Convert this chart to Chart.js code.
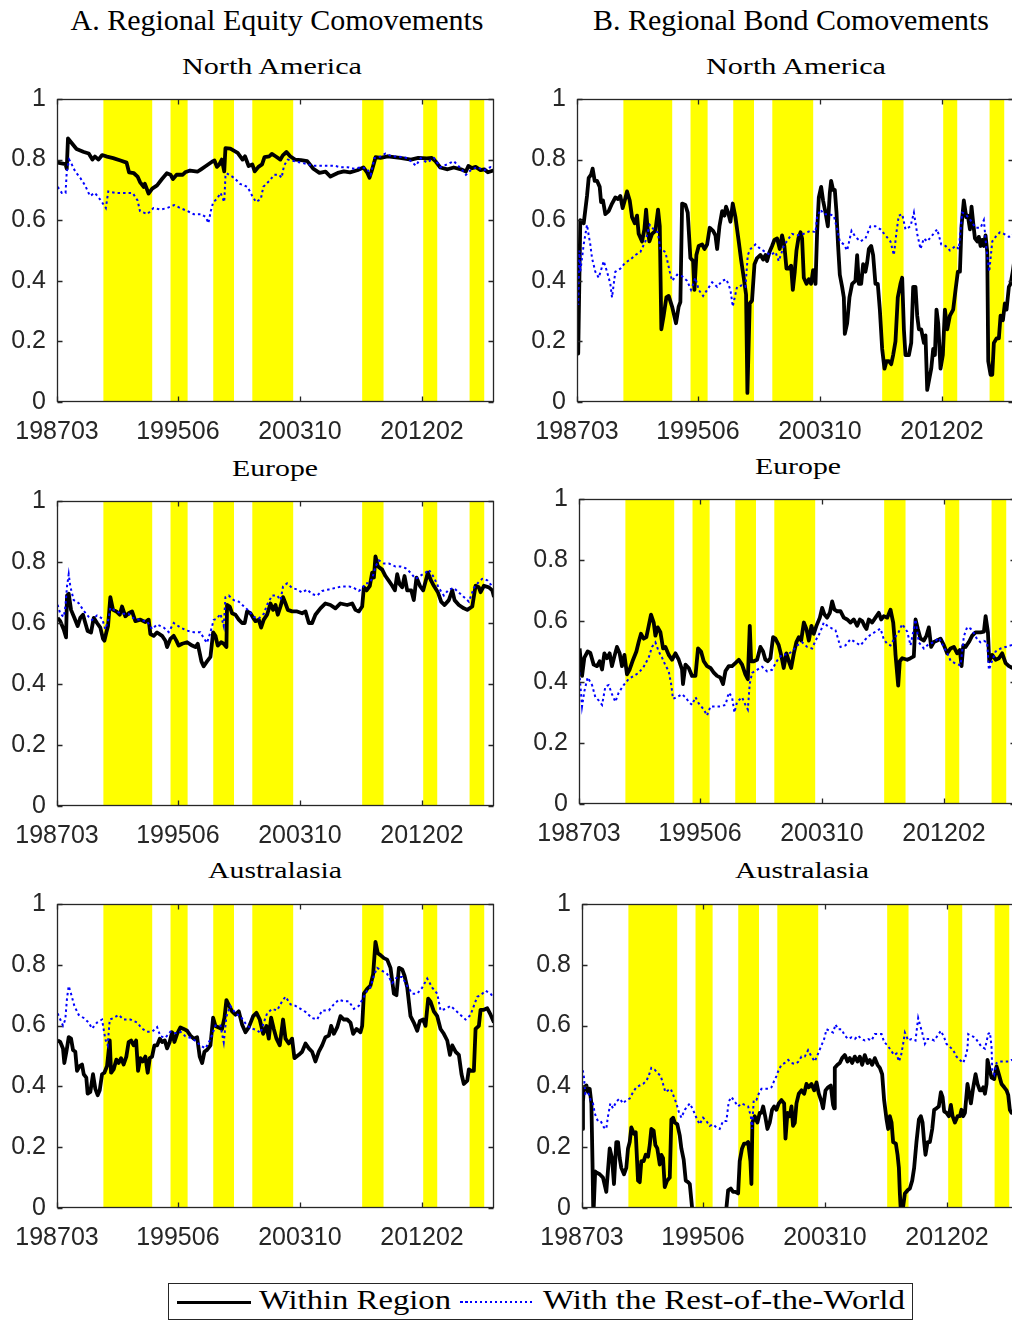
<!DOCTYPE html>
<html>
<head>
<meta charset="utf-8">
<script src="https://cdn.jsdelivr.net/npm/chart.js@4.4.1/dist/chart.umd.min.js"></script>
<style>
  html, body { margin:0; padding:0; background:#fff; }
  body { position:relative; width:1012px; height:1322px; overflow:hidden; }
  canvas.panel { position:absolute; }
  .txt { position:absolute; white-space:nowrap; line-height:1; color:#000;
         font-family:'Liberation Serif','Times New Roman',serif; transform-origin:center; }
  #legend { position:absolute; left:168px; top:1283px; width:745px; height:37px;
            border:1px solid #262626; box-sizing:border-box; background:#fff; }
  .swatch { position:absolute; height:3px; }
</style>
</head>
<body>

<div class="txt" style="left:277px; top:5px; font-size:30px;" data-w="413">A. Regional Equity Comovements</div>
<div class="txt" style="left:791px; top:5px; font-size:30px;" data-w="396">B. Regional Bond Comovements</div>

<div class="txt" style="left:272px; top:54px; font-size:24px;" data-w="180">North America</div>
<div class="txt" style="left:796px; top:54px; font-size:24px;" data-w="180">North America</div>
<div class="txt" style="left:275px; top:456px; font-size:24px;" data-w="86">Europe</div>
<div class="txt" style="left:798px; top:454px; font-size:24px;" data-w="86">Europe</div>
<div class="txt" style="left:275px; top:858px; font-size:24px;" data-w="134">Australasia</div>
<div class="txt" style="left:802px; top:858px; font-size:24px;" data-w="134">Australasia</div>

<canvas class="panel" id="eqNA"></canvas>
<canvas class="panel" id="bdNA"></canvas>
<canvas class="panel" id="eqEU"></canvas>
<canvas class="panel" id="bdEU"></canvas>
<canvas class="panel" id="eqAU"></canvas>
<canvas class="panel" id="bdAU"></canvas>

<div id="legend"></div>
<div class="swatch" style="left:177px; top:1301px; width:74px; background:#000;"></div>
<div class="swatch" style="left:460px; top:1301px; width:72px; height:2px;
     background:repeating-linear-gradient(90deg,#0000ff 0 2.5px,transparent 2.5px 5px);"></div>
<div class="txt" style="left:355px; top:1287px; font-size:27px;" data-w="192">Within Region</div>
<div class="txt" style="left:724px; top:1287px; font-size:27px;" data-w="362">With the Rest-of-the-World</div>

<script>
// Observation index 1 = 1987:03 (monthly)
const tickObs = [1, 100, 200, 300];
const tickLabels = ['198703', '199506', '200310', '201202'];
const firstObs = 1;
const lastObs = 359;

// Shaded episodes [start obs, end obs]
const shadedPeriods = [[39, 79], [94, 108], [129, 146], [161, 194.5], [251, 268.5], [301, 312.5], [339, 351]];

// ---- A. Equity, North America
const equityNA_within = [[1.5,0.79],[8,0.785],[9,0.77],[10,0.87],[13,0.855],[17,0.835],[23,0.825],[27,0.82],[30,0.80],[32,0.81],[35,0.80],[38,0.815],[42,0.81],[47,0.805],[53,0.797],[58,0.79],[60,0.758],[64,0.755],[67,0.744],[69,0.726],[72,0.71],[73,0.72],[76,0.688],[79,0.704],[83,0.715],[87,0.736],[91,0.755],[94,0.75],[96,0.736],[99,0.75],[104,0.75],[106,0.758],[110,0.764],[116,0.76],[119,0.768],[123,0.779],[128,0.793],[130,0.797],[132,0.776],[134,0.784],[136,0.80],[138,0.761],[139,0.838],[143,0.836],[149,0.822],[153,0.80],[155,0.811],[158,0.779],[161,0.784],[163,0.761],[166,0.776],[169,0.784],[171,0.808],[175,0.811],[177,0.819],[180,0.811],[184,0.80],[186,0.814],[189,0.825],[192,0.811],[196,0.80],[201,0.798],[206,0.795],[211,0.77],[216,0.756],[221,0.76],[225,0.744],[231,0.756],[236,0.761],[241,0.758],[247,0.765],[252,0.774],[255,0.758],[257,0.74],[259,0.765],[262,0.808],[266,0.806],[272,0.811],[277,0.808],[282,0.806],[291,0.80],[297,0.806],[304,0.804],[308,0.806],[311,0.795],[315,0.774],[321,0.768],[326,0.774],[332,0.768],[336,0.761],[338,0.779],[341,0.772],[344,0.776],[348,0.765],[351,0.768],[354,0.758],[359,0.765]];
const equityNA_world = [[1.5,0.71],[5,0.69],[8,0.69],[9,0.76],[11,0.80],[13,0.785],[16,0.76],[20,0.74],[24,0.715],[28,0.68],[32,0.69],[37,0.665],[41,0.64],[43,0.695],[49,0.69],[56,0.69],[63,0.69],[67,0.665],[69,0.63],[75,0.62],[80,0.64],[86,0.635],[91,0.64],[97,0.65],[102,0.64],[108,0.63],[113,0.62],[119,0.62],[123,0.61],[125,0.59],[127,0.63],[129,0.66],[132,0.67],[135,0.69],[138,0.66],[139,0.745],[140,0.755],[146,0.74],[151,0.72],[157,0.71],[161,0.68],[164,0.66],[168,0.67],[170,0.71],[175,0.73],[179,0.75],[183,0.75],[185,0.74],[187,0.78],[190,0.80],[195,0.795],[201,0.79],[206,0.785],[211,0.78],[217,0.78],[222,0.78],[228,0.78],[233,0.775],[239,0.775],[244,0.77],[250,0.775],[255,0.77],[258,0.75],[261,0.805],[266,0.81],[270,0.82],[276,0.81],[281,0.81],[288,0.805],[295,0.78],[299,0.805],[304,0.79],[310,0.805],[315,0.775],[321,0.785],[326,0.795],[332,0.77],[336,0.75],[340,0.765],[345,0.775],[351,0.765],[356,0.775],[359,0.77]];

// ---- B. Bond, North America
const bondNA_within = [[1,0.43],[2,0.16],[3.7,0.60],[6.5,0.59],[9.2,0.68],[10.6,0.74],[12.5,0.75],[13.8,0.77],[15.5,0.73],[17.4,0.73],[19.6,0.71],[20.7,0.66],[22.3,0.665],[24.2,0.62],[27,0.63],[29.7,0.655],[32.4,0.675],[34.6,0.67],[36.5,0.68],[38.4,0.64],[40.1,0.665],[42,0.695],[44.2,0.665],[46.1,0.61],[48.3,0.59],[50.2,0.615],[51.5,0.555],[54.3,0.53],[56.2,0.57],[57.6,0.635],[58.9,0.57],[60.3,0.53],[62.5,0.555],[65.2,0.565],[67.4,0.635],[68.8,0.58],[70.1,0.24],[72,0.285],[74.2,0.345],[76.1,0.35],[78.9,0.315],[82.1,0.26],[84.3,0.315],[85.7,0.33],[87.1,0.655],[89.8,0.65],[91.7,0.625],[93.9,0.475],[96.1,0.465],[97.2,0.37],[98.8,0.485],[100.7,0.515],[103.5,0.52],[105.4,0.505],[107.6,0.52],[109.7,0.575],[112.5,0.565],[114.4,0.55],[115.8,0.505],[117.7,0.58],[119.9,0.63],[121.8,0.615],[123.1,0.645],[124.8,0.625],[126.7,0.595],[128.6,0.655],[130.8,0.61],[133.5,0.53],[135.4,0.47],[137.6,0.41],[139.5,0.355],[140.6,0.03],[142.5,0.325],[144.4,0.335],[146.4,0.455],[148.5,0.475],[151.3,0.485],[153.5,0.47],[155.4,0.485],[156.7,0.465],[158.7,0.495],[160.8,0.515],[162.7,0.535],[164.9,0.54],[167.1,0.505],[169,0.55],[170.9,0.515],[172.6,0.44],[174.5,0.44],[176.4,0.45],[177.8,0.37],[179.4,0.43],[180.8,0.50],[182.4,0.54],[184.1,0.56],[185.4,0.54],[186.8,0.41],[189,0.39],[190.9,0.405],[192.8,0.39],[194.4,0.435],[196.4,0.39],[197.7,0.56],[199.1,0.675],[201,0.71],[202.6,0.665],[204.6,0.625],[206.5,0.58],[208.1,0.69],[209.2,0.73],[210.8,0.70],[212.2,0.70],[213.6,0.625],[214.9,0.515],[216.3,0.42],[218.2,0.38],[219.6,0.345],[220.4,0.225],[222.3,0.26],[224.2,0.345],[226.4,0.39],[229.1,0.40],[230.5,0.485],[231.9,0.39],[233.8,0.39],[235.4,0.455],[237.3,0.43],[238.7,0.46],[240.1,0.505],[242,0.515],[243.6,0.485],[245.5,0.39],[247.4,0.39],[249.1,0.305],[251,0.175],[252.9,0.11],[254.6,0.135],[256.5,0.135],[258.4,0.125],[260,0.155],[261.9,0.20],[263.8,0.345],[266,0.39],[267.4,0.41],[268.8,0.24],[270.1,0.155],[272.9,0.155],[274.8,0.195],[276.4,0.38],[278.3,0.38],[279.7,0.285],[281.1,0.24],[283,0.24],[285.2,0.195],[286.5,0.22],[287.9,0.04],[289.3,0.07],[291.2,0.11],[292.8,0.175],[294.2,0.155],[295.5,0.305],[296.9,0.26],[298.8,0.11],[300.7,0.155],[302.4,0.305],[304.3,0.24],[306.5,0.285],[309.2,0.305],[311.1,0.37],[313,0.43],[314.7,0.43],[316,0.58],[317.9,0.665],[319.9,0.61],[321.2,0.615],[322.9,0.57],[324.2,0.645],[325.6,0.59],[327,0.54],[328.9,0.53],[330.2,0.545],[331.6,0.515],[333,0.535],[334.3,0.515],[335.7,0.55],[337.1,0.495],[337.9,0.135],[339.8,0.09],[341.2,0.09],[342.5,0.195],[344.7,0.21],[346.6,0.21],[348,0.285],[349.9,0.27],[351.5,0.325],[352.9,0.305],[354.8,0.38],[356.2,0.39],[358,0.43],[359,0.46]];
const bondNA_world = [[1,0.45],[2,0.32],[3,0.50],[3.7,0.43],[6.5,0.52],[9.2,0.585],[10.6,0.55],[11.9,0.52],[13.3,0.475],[16,0.43],[18.8,0.41],[22.9,0.465],[25.6,0.43],[28.3,0.39],[29.7,0.345],[32.4,0.43],[36.5,0.44],[40.6,0.46],[44.7,0.47],[48.8,0.485],[52.9,0.495],[57,0.53],[60.6,0.585],[63.8,0.57],[67.1,0.56],[69.3,0.505],[73.4,0.495],[77,0.43],[78.9,0.40],[83,0.42],[87.1,0.415],[91.2,0.40],[94.4,0.37],[98,0.41],[100.7,0.37],[104.3,0.35],[107.6,0.37],[111.7,0.395],[115.8,0.38],[119.9,0.40],[123.4,0.405],[126.7,0.37],[128.6,0.315],[132.1,0.38],[136.2,0.385],[139,0.38],[140.9,0.485],[143.1,0.505],[147.2,0.52],[151.3,0.505],[155.4,0.495],[159.5,0.485],[163.6,0.495],[166.3,0.465],[170.4,0.515],[174.5,0.54],[177.2,0.555],[181.3,0.55],[186.8,0.555],[192.3,0.565],[196.4,0.56],[197.7,0.61],[200.5,0.635],[203.2,0.62],[207.3,0.62],[211.4,0.615],[214.1,0.57],[216.3,0.53],[219.6,0.52],[222.3,0.50],[225.9,0.565],[229.1,0.545],[233.2,0.53],[237.3,0.54],[241.4,0.58],[245.5,0.58],[249.6,0.57],[253.7,0.55],[257.8,0.53],[260.6,0.485],[262.7,0.56],[264.6,0.615],[267.4,0.62],[270.1,0.57],[274.2,0.58],[277,0.625],[279.7,0.555],[282.4,0.505],[285.2,0.54],[287.9,0.53],[292,0.55],[296.1,0.57],[299.4,0.52],[302.9,0.515],[306.5,0.50],[311.1,0.515],[313.8,0.505],[316.6,0.625],[319.3,0.62],[323.4,0.60],[327.5,0.575],[331.6,0.575],[334.3,0.60],[336.2,0.515],[337.6,0.465],[338.7,0.43],[341.2,0.53],[343.9,0.545],[347.4,0.56],[350.7,0.555],[354.8,0.545],[357.6,0.55],[359,0.56]];

// ---- A. Equity, Europe
const equityEU_within = [[1.5,0.617],[3.7,0.606],[6.5,0.579],[8.4,0.553],[9.2,0.69],[10.6,0.696],[12.5,0.643],[15.2,0.617],[17.9,0.59],[20.1,0.617],[22.3,0.627],[24.2,0.60],[26.1,0.574],[28.9,0.569],[31.1,0.617],[33.8,0.60],[36.5,0.585],[38.7,0.548],[39.8,0.542],[41.4,0.569],[42.8,0.59],[44.7,0.685],[46.9,0.643],[49.6,0.638],[52.4,0.627],[54.3,0.654],[57,0.622],[59.7,0.632],[62.5,0.638],[65.2,0.606],[69.3,0.611],[73.4,0.603],[76.1,0.611],[77.5,0.564],[80.2,0.558],[83,0.569],[87.1,0.558],[89.8,0.542],[91.2,0.521],[93.9,0.548],[96.6,0.558],[98.8,0.542],[100.7,0.526],[103.5,0.532],[107.6,0.537],[111.7,0.526],[114.4,0.521],[116.3,0.532],[117.7,0.505],[119.3,0.474],[121.2,0.458],[123.9,0.474],[126.7,0.489],[128.9,0.569],[130.8,0.558],[132.7,0.526],[135.4,0.537],[137.6,0.532],[139.8,0.521],[140.3,0.659],[142.5,0.654],[144.4,0.632],[147.2,0.627],[149.9,0.611],[152.6,0.60],[154.8,0.60],[156.7,0.638],[159.5,0.632],[161.7,0.617],[163.6,0.606],[166.3,0.611],[168.2,0.585],[170.4,0.611],[173.1,0.627],[175.9,0.664],[178,0.643],[180,0.659],[181.9,0.627],[184.1,0.654],[186.2,0.685],[188.2,0.664],[190.1,0.643],[193.6,0.638],[197.7,0.638],[201.8,0.632],[204.6,0.638],[207.3,0.60],[210,0.60],[212.7,0.627],[216.8,0.648],[220.9,0.664],[225,0.659],[229.1,0.648],[233.2,0.664],[238.7,0.659],[242.8,0.664],[245.5,0.643],[248.3,0.638],[251,0.654],[252.4,0.717],[254.6,0.707],[257.3,0.722],[259.2,0.765],[260.6,0.749],[261.9,0.818],[263.8,0.786],[267.4,0.775],[270.1,0.754],[272.9,0.738],[275.6,0.722],[277.8,0.707],[279.7,0.76],[281.6,0.728],[283.8,0.717],[285.7,0.754],[287.9,0.707],[291.2,0.707],[293.3,0.675],[295.5,0.749],[298.3,0.722],[301,0.707],[304.8,0.765],[307.6,0.738],[309.7,0.722],[313,0.701],[315.8,0.669],[318.5,0.659],[322,0.675],[324.8,0.707],[326.7,0.675],[330.2,0.659],[334.3,0.648],[337.1,0.643],[341.2,0.654],[343.9,0.722],[346.6,0.717],[348,0.701],[350.7,0.722],[354.8,0.717],[357.6,0.707],[359,0.685]];
const equityEU_world = [[1.5,0.66],[3.7,0.63],[6.5,0.62],[7.8,0.65],[9.2,0.72],[10.6,0.76],[11.9,0.72],[14.7,0.675],[18.8,0.665],[22.9,0.64],[27,0.62],[29.7,0.61],[33.8,0.625],[37.9,0.615],[40.6,0.58],[43.3,0.615],[44.7,0.65],[48.8,0.64],[54.3,0.63],[59.7,0.63],[63.8,0.615],[69.3,0.61],[74.8,0.605],[78.9,0.58],[83,0.595],[88.4,0.585],[92.5,0.57],[96.6,0.60],[102.1,0.585],[107.6,0.575],[113,0.57],[118.5,0.57],[121.2,0.55],[123.9,0.535],[126.7,0.57],[129.4,0.61],[132.1,0.615],[134.9,0.63],[137.6,0.59],[139,0.685],[141.7,0.69],[145.8,0.675],[149.9,0.67],[154,0.655],[158.1,0.64],[162.2,0.62],[166.3,0.615],[170.4,0.63],[173.1,0.66],[177.2,0.69],[181.3,0.69],[184.1,0.675],[186.2,0.72],[189.5,0.73],[193.6,0.715],[197.7,0.71],[201.8,0.70],[205.9,0.71],[210,0.695],[214.1,0.69],[218.2,0.705],[223.7,0.71],[229.1,0.715],[234.6,0.72],[240.1,0.72],[244.2,0.715],[248.3,0.705],[251,0.715],[253.7,0.73],[256.5,0.73],[259.2,0.745],[261.9,0.785],[264.7,0.805],[268.8,0.795],[272.9,0.795],[278.3,0.785],[282.4,0.785],[286.5,0.78],[290.6,0.765],[294.7,0.745],[298.8,0.755],[302.9,0.765],[305.6,0.775],[309.7,0.75],[313.8,0.715],[317.9,0.69],[322,0.71],[326.1,0.715],[330.2,0.70],[334.3,0.685],[338.4,0.67],[342.5,0.715],[346.6,0.735],[349.4,0.745],[353.5,0.74],[357.6,0.72],[359,0.72]];

// ---- B. Bond, Europe
const bondEU_within = [[1.5,0.51],[3.5,0.42],[5.4,0.48],[8.1,0.50],[10.3,0.495],[13,0.457],[15.8,0.452],[17.9,0.468],[19.9,0.441],[21.8,0.494],[24,0.478],[26.1,0.494],[28,0.452],[30,0.484],[32.1,0.515],[34.3,0.494],[36.2,0.452],[38.2,0.489],[40.3,0.425],[42.5,0.441],[45.3,0.473],[48,0.50],[49.9,0.531],[51.8,0.558],[54,0.542],[56.2,0.547],[58.1,0.584],[60,0.621],[62.2,0.595],[63.6,0.552],[65.5,0.579],[67.7,0.563],[69.9,0.51],[71.8,0.515],[74.5,0.489],[77.2,0.473],[80,0.494],[82.7,0.473],[85.4,0.441],[86.2,0.393],[88.2,0.457],[90.9,0.446],[93.6,0.42],[96.4,0.42],[98.5,0.51],[101,0.50],[103.2,0.468],[105.9,0.452],[108.7,0.446],[111.4,0.431],[114.1,0.42],[116.8,0.415],[119,0.393],[121,0.436],[123.7,0.452],[126.4,0.452],[129.1,0.462],[131.9,0.473],[134.6,0.457],[137.3,0.425],[139.3,0.409],[140.9,0.584],[142,0.468],[144.2,0.468],[146.9,0.473],[149.6,0.515],[151.8,0.50],[153.7,0.473],[155.6,0.468],[157.8,0.478],[160,0.547],[161.9,0.542],[164.6,0.521],[166.6,0.489],[168.7,0.446],[170.9,0.494],[172.9,0.468],[174.8,0.446],[177,0.494],[179.1,0.531],[181.1,0.547],[183,0.536],[185.2,0.595],[187.3,0.574],[189.3,0.536],[191.4,0.584],[193.3,0.558],[195.5,0.584],[198.3,0.611],[200.2,0.643],[202.1,0.621],[204.3,0.611],[206.5,0.627],[208.4,0.664],[210.3,0.637],[212.5,0.632],[215.2,0.632],[217.9,0.611],[220.7,0.605],[223.4,0.595],[226.1,0.605],[228.9,0.584],[231.1,0.605],[233,0.60],[234.9,0.584],[236.5,0.574],[238.4,0.605],[241.2,0.595],[243.9,0.611],[246.6,0.627],[248.5,0.605],[250.7,0.616],[253.5,0.611],[256.2,0.637],[258.4,0.595],[259.5,0.542],[260.3,0.489],[261.7,0.425],[262.5,0.388],[263.8,0.468],[265.8,0.478],[269.9,0.473],[272.6,0.478],[275.3,0.484],[276.7,0.605],[278.6,0.574],[280.8,0.542],[283.5,0.536],[285.7,0.552],[287.6,0.579],[289.5,0.515],[291.7,0.531],[294.4,0.536],[297.2,0.542],[299.9,0.521],[302.6,0.494],[305.4,0.51],[308.1,0.515],[310.8,0.494],[313,0.505],[314.4,0.452],[315.8,0.52],[317.7,0.515],[320.4,0.531],[323.1,0.552],[325.9,0.563],[330,0.563],[332.7,0.565],[334.1,0.616],[336,0.563],[337.1,0.468],[339.5,0.489],[342.3,0.473],[345,0.478],[347.7,0.494],[350.5,0.462],[353.2,0.452],[356.2,0.446],[359,0.45]];
const bondEU_world = [[1,0.45],[2.1,0.39],[3.5,0.32],[5.4,0.37],[8.1,0.415],[11.7,0.39],[14.4,0.35],[17.1,0.34],[19.9,0.325],[22.6,0.385],[25.3,0.39],[28,0.36],[30.8,0.335],[33.5,0.365],[37.6,0.39],[41.7,0.41],[45.8,0.42],[49.9,0.43],[54,0.45],[58.1,0.48],[60.8,0.515],[63.6,0.53],[66.3,0.50],[69,0.48],[71.8,0.455],[74.5,0.435],[76.4,0.395],[78,0.345],[81.3,0.35],[85.4,0.36],[88.2,0.35],[90.9,0.335],[93.6,0.325],[96.4,0.35],[99.1,0.33],[103.2,0.31],[105.9,0.29],[108.7,0.32],[112.7,0.32],[116.8,0.32],[121,0.325],[123.7,0.365],[126.4,0.35],[128.3,0.30],[130.5,0.335],[134.6,0.35],[137.3,0.325],[139.3,0.31],[140.9,0.395],[142.8,0.43],[146.9,0.44],[151,0.45],[155.1,0.435],[159.2,0.44],[163.3,0.47],[167.4,0.49],[171.5,0.49],[175.6,0.50],[179.7,0.52],[183.8,0.53],[187.9,0.515],[192,0.51],[194.7,0.535],[198.8,0.565],[201.5,0.595],[204.3,0.585],[208.4,0.575],[211.1,0.57],[215.2,0.515],[219.3,0.52],[223.4,0.54],[227.5,0.53],[231.6,0.52],[235.7,0.54],[239.8,0.555],[243.9,0.565],[248,0.575],[250.7,0.54],[253.5,0.525],[256.2,0.52],[258.9,0.54],[263,0.565],[265.8,0.59],[269.9,0.565],[272.6,0.52],[275.3,0.575],[276.7,0.605],[279.4,0.53],[283.5,0.51],[287.6,0.525],[291.7,0.53],[295.8,0.545],[298.5,0.525],[302.6,0.495],[305.4,0.47],[309.5,0.46],[313.6,0.455],[316.3,0.55],[319,0.58],[321.8,0.575],[324.5,0.56],[327.2,0.54],[329.9,0.53],[332.7,0.535],[335.4,0.53],[336.8,0.44],[339.5,0.47],[342.3,0.50],[346.4,0.51],[350.5,0.515],[354.6,0.52],[359,0.525]];

// ---- A. Equity, Australasia
const equityAU_within = [[1.5,0.551],[3.7,0.546],[5.9,0.525],[7,0.477],[8.7,0.514],[10.6,0.562],[12.5,0.557],[14.1,0.52],[16,0.514],[17.4,0.451],[19.6,0.467],[21.5,0.472],[22.9,0.44],[25,0.429],[26.1,0.376],[28.3,0.382],[30.5,0.44],[32.4,0.392],[34.3,0.371],[36,0.387],[37.9,0.44],[39.8,0.445],[42,0.467],[44.2,0.551],[45.3,0.445],[47.4,0.456],[49.6,0.488],[51.5,0.477],[53.5,0.493],[55.6,0.472],[57.8,0.498],[59.7,0.546],[61.7,0.551],[63.8,0.535],[65.8,0.551],[67.4,0.451],[69.3,0.493],[71.2,0.482],[73.4,0.498],[75.3,0.445],[77,0.493],[78.9,0.498],[80.8,0.535],[83,0.535],[85.2,0.557],[87.1,0.546],[89.3,0.551],[91.2,0.525],[93.3,0.546],[95.3,0.578],[97.2,0.546],[99.4,0.573],[102.1,0.594],[104.8,0.589],[107.6,0.583],[110.3,0.567],[113,0.557],[115.8,0.562],[117.9,0.498],[119.9,0.477],[121.8,0.514],[123.9,0.52],[126.7,0.535],[128.9,0.626],[130.8,0.599],[133.5,0.594],[136.2,0.589],[138.2,0.626],[139.8,0.684],[141.7,0.668],[144.4,0.647],[147.2,0.636],[149.9,0.647],[152.6,0.604],[155.4,0.578],[158.1,0.594],[161.7,0.631],[164.4,0.642],[167.1,0.62],[169.9,0.573],[172.6,0.599],[174.5,0.557],[176.4,0.626],[178.6,0.589],[180.8,0.557],[183.5,0.535],[186.2,0.62],[188.2,0.557],[190.9,0.541],[193.6,0.557],[195.5,0.493],[199.1,0.504],[201.8,0.514],[204.6,0.541],[207.3,0.525],[210,0.514],[212.7,0.482],[215.5,0.514],[218.2,0.535],[220.9,0.562],[223.7,0.567],[225.6,0.599],[227.8,0.573],[230.5,0.594],[233.2,0.631],[236,0.62],[238.7,0.62],[241.4,0.61],[243.6,0.573],[246.4,0.589],[249.6,0.578],[251,0.599],[252.4,0.705],[255.1,0.721],[257.8,0.732],[260,0.769],[261.9,0.875],[263.8,0.838],[266,0.832],[268.8,0.822],[271.5,0.817],[274.2,0.79],[277,0.705],[279.1,0.70],[281.1,0.79],[283.8,0.785],[285.7,0.764],[287.9,0.726],[290.6,0.631],[293.3,0.61],[296.1,0.583],[298.3,0.615],[301,0.62],[302.9,0.599],[305.1,0.689],[307,0.679],[309.7,0.647],[312.5,0.631],[315.2,0.589],[317.9,0.573],[320.7,0.551],[322.9,0.504],[324.8,0.535],[327.5,0.514],[330.2,0.504],[332.4,0.44],[334.3,0.408],[337.1,0.419],[338.4,0.456],[340.3,0.451],[342.5,0.451],[343.9,0.589],[346.6,0.599],[348,0.652],[350.7,0.652],[353.5,0.657],[356.2,0.636],[359,0.61]];
const equityAU_world = [[1.5,0.64],[3.7,0.62],[5.9,0.60],[7.8,0.62],[9.2,0.69],[10.6,0.73],[12.5,0.705],[15.2,0.665],[18.8,0.635],[22.9,0.625],[27,0.61],[29.7,0.59],[33.8,0.61],[37.9,0.62],[40.6,0.555],[42.5,0.535],[44.2,0.62],[47.4,0.625],[51.5,0.635],[55.6,0.62],[61.1,0.62],[66.6,0.61],[70.7,0.59],[74.8,0.58],[78.9,0.58],[83,0.595],[85.7,0.565],[89.8,0.56],[93.9,0.58],[98,0.575],[102.1,0.58],[106.2,0.565],[110.3,0.56],[114.4,0.55],[118.5,0.535],[122.6,0.525],[126.7,0.555],[130.8,0.60],[134.9,0.60],[137.6,0.545],[139.8,0.63],[143,0.665],[147.2,0.64],[151.3,0.63],[156.7,0.60],[160.8,0.59],[164.9,0.585],[167.7,0.575],[170.4,0.61],[173.1,0.64],[177.2,0.655],[181.3,0.65],[185.4,0.68],[188.2,0.695],[192.3,0.67],[196.4,0.665],[200.5,0.655],[204.6,0.645],[210,0.625],[214.1,0.62],[218.2,0.65],[223.7,0.65],[227.8,0.67],[231.9,0.685],[236,0.68],[240.1,0.68],[244.2,0.655],[248.3,0.665],[252.4,0.695],[255.1,0.715],[257.8,0.725],[260.6,0.765],[263.3,0.79],[267.4,0.78],[271.5,0.77],[275.6,0.74],[279.7,0.76],[283.8,0.76],[287.9,0.73],[292,0.705],[296.1,0.705],[300.2,0.725],[304.3,0.755],[308.4,0.725],[312.5,0.705],[315.2,0.65],[319.3,0.655],[323.4,0.665],[327.5,0.65],[331.6,0.635],[335.7,0.62],[339.8,0.635],[342.5,0.665],[345.3,0.695],[348,0.70],[352.1,0.715],[356.2,0.705],[359,0.69]];

// ---- B. Bond, Australasia (values below zero run off the axis)
const bondAU_within = [[1,0.26],[1.8,0.35],[2.6,0.397],[4.6,0.403],[5.9,0.381],[7.3,0.392],[8.7,0.344],[9.6,0.15],[10.3,-0.03],[11.8,0.12],[12.7,0.117],[15.5,0.111],[18.2,0.10],[20.9,0.053],[23.7,0.196],[25.6,0.164],[27.2,0.079],[29.1,0.217],[30.5,0.217],[31.9,0.164],[33.2,0.132],[35.4,0.111],[37.3,0.132],[38.7,0.196],[40.1,0.217],[41.4,0.265],[43.6,0.244],[45,0.249],[46.9,0.09],[48.3,0.085],[49.6,0.154],[51.5,0.154],[53.2,0.175],[55.1,0.169],[56.5,0.207],[57.8,0.26],[59.7,0.254],[61.1,0.207],[62.7,0.196],[64.7,0.143],[66,0.175],[67.4,0.164],[68.8,0.069],[70.7,0.09],[72.9,0.10],[74.2,0.291],[75.6,0.297],[77,0.281],[79.1,0.275],[81.1,0.238],[82.4,0.196],[84.3,0.159],[86,0.09],[87.9,0.085],[89.3,0.079],[91.2,0],[92,-0.1],[118.5,-0.1],[119.3,0],[120.7,0.058],[122.9,0.064],[124.8,0.053],[126.7,0.053],[128.9,0.048],[130.2,0.154],[132.1,0.196],[133.8,0.212],[135.7,0.212],[137.1,0.217],[139,0.154],[139.8,0.079],[140.6,0.281],[142.5,0.302],[144.7,0.281],[146.6,0.313],[148,0.313],[149.4,0.334],[151.3,0.297],[152.9,0.26],[154.8,0.281],[156.7,0.323],[158.4,0.334],[160.3,0.323],[162.2,0.344],[164.4,0.355],[166.6,0.344],[167.7,0.228],[169.3,0.313],[171.2,0.302],[172.6,0.334],[173.9,0.27],[175.3,0.28],[176.7,0.344],[178.6,0.376],[180.8,0.387],[183,0.376],[184.9,0.408],[186.8,0.397],[189,0.408],[191.2,0.387],[193.1,0.413],[195,0.376],[197.2,0.35],[198.5,0.328],[200.5,0.387],[202.6,0.397],[204.8,0.403],[206.7,0.339],[207.6,0.328],[208.1,0.461],[210.3,0.471],[212.2,0.477],[214.1,0.493],[216.3,0.503],[218.5,0.482],[220.4,0.493],[222.3,0.477],[224.5,0.498],[226.7,0.482],[228.6,0.498],[230.5,0.471],[232.7,0.503],[234.9,0.477],[236.8,0.487],[238.7,0.471],[240.9,0.493],[243.1,0.471],[245,0.461],[246.9,0.44],[248.5,0.355],[250.5,0.291],[251.8,0.26],[253.2,0.302],[254.6,0.281],[255.9,0.217],[258.1,0.212],[259.5,0.175],[260.6,0.132],[261.4,0.048],[262.2,-0.01],[264.1,0.005],[265.5,0.048],[267.7,0.058],[269.6,0.064],[271.5,0.09],[273.1,0.132],[275,0.217],[277,0.291],[278.6,0.302],[280,0.281],[281.3,0.217],[282.4,0.175],[284.1,0.217],[286,0.217],[287.9,0.26],[289.5,0.323],[291.4,0.328],[293.3,0.334],[295,0.381],[296.4,0.365],[297.7,0.318],[299.6,0.313],[301.5,0.302],[303.2,0.339],[304.6,0.302],[306.5,0.281],[308.7,0.302],[310.6,0.302],[311.9,0.323],[313.3,0.302],[314.7,0.313],[316.8,0.408],[318.2,0.376],[319.6,0.344],[321.5,0.397],[323.4,0.44],[325,0.408],[326.9,0.387],[328.3,0.387],[329.7,0.397],[331.1,0.376],[332.4,0.408],[333.2,0.487],[334.6,0.461],[336.5,0.429],[338.7,0.424],[340.6,0.466],[342.5,0.44],[344.7,0.408],[346.9,0.397],[348.8,0.387],[350.2,0.371],[351.5,0.323],[352.9,0.313],[359,0.32]];
const bondAU_world = [[1,0.45],[1.8,0.45],[2.6,0.43],[3.7,0.376],[5.9,0.381],[8.1,0.355],[10,0.344],[11.4,0.313],[12.7,0.297],[14.1,0.286],[16.3,0.286],[19,0.265],[20.9,0.26],[22.3,0.302],[24.2,0.344],[26.4,0.328],[29.1,0.35],[31.9,0.36],[34.6,0.344],[37.3,0.355],[40.1,0.36],[42.8,0.381],[45.5,0.397],[48.3,0.403],[51,0.408],[53.7,0.418],[55.6,0.434],[57.8,0.461],[60.6,0.455],[62.7,0.445],[65.5,0.434],[67.4,0.408],[69.3,0.381],[71.5,0.387],[73.7,0.392],[76.4,0.365],[78.3,0.344],[80.2,0.318],[82.4,0.297],[85.2,0.323],[89.3,0.344],[92,0.323],[94.7,0.297],[97.4,0.275],[100.2,0.297],[102.9,0.286],[105.6,0.27],[108.4,0.275],[111.1,0.265],[113.8,0.26],[116.6,0.286],[119.3,0.286],[121.2,0.35],[123.4,0.365],[126.1,0.35],[128.9,0.334],[131.6,0.344],[134.3,0.339],[137.1,0.334],[139.3,0.302],[140.3,0.26],[141.7,0.355],[143.9,0.355],[145.8,0.376],[148,0.392],[150.7,0.392],[153.5,0.392],[156.2,0.397],[158.4,0.418],[160.3,0.434],[162.2,0.455],[164.4,0.471],[167.1,0.477],[169.9,0.487],[172.6,0.477],[175.3,0.474],[178,0.48],[180.8,0.498],[183.5,0.498],[186.2,0.519],[189,0.498],[191.7,0.482],[194.4,0.508],[197.2,0.535],[199.4,0.556],[201.3,0.588],[204,0.583],[206.7,0.577],[208.7,0.604],[210.8,0.588],[213.6,0.588],[216.3,0.567],[219,0.556],[221.8,0.561],[224.5,0.556],[227.2,0.567],[230,0.556],[232.7,0.551],[235.4,0.556],[238.2,0.551],[240.9,0.572],[243.6,0.572],[246.4,0.572],[248.5,0.546],[251.3,0.535],[254,0.519],[256.7,0.503],[258.7,0.508],[260.6,0.482],[262.2,0.498],[264.1,0.54],[265.5,0.577],[268.2,0.551],[270.9,0.556],[274.2,0.551],[276.4,0.625],[277.8,0.604],[279.7,0.577],[281.9,0.54],[284.1,0.556],[286.8,0.556],[289.5,0.551],[292.3,0.567],[295,0.583],[297.7,0.561],[299.6,0.54],[302.4,0.53],[305.1,0.519],[307.8,0.498],[310.6,0.487],[313.3,0.477],[315.2,0.498],[316.8,0.524],[317.4,0.572],[319.6,0.567],[322.9,0.561],[325.6,0.546],[328.3,0.53],[331.1,0.524],[333.8,0.572],[335.2,0.577],[336.5,0.53],[337.1,0.455],[338.7,0.44],[340.6,0.477],[343.3,0.482],[346.1,0.482],[350.2,0.482],[352.9,0.487],[359,0.49]];

// ---------------------------------------------------------------------------
const AXIS_INK = '#262626';
const TICK_FONT = { family: "'Liberation Sans', Arial, Helvetica, sans-serif", size: 25 };
const PAD_L = 60, PAD_T = 16, PAD_R = 16, PAD_B = 44, PLOT_W = 437;

// yellow episode shading behind the series
const shadingPlugin = {
  id: 'episodeShading',
  beforeDatasetsDraw(chart) {
    const { ctx, chartArea: a, scales: { x } } = chart;
    ctx.save();
    ctx.fillStyle = '#ffff00';
    for (const [s, e] of shadedPeriods) {
      const x0 = x.getPixelForValue(s), x1 = x.getPixelForValue(e);
      ctx.fillRect(x0, a.top, x1 - x0, a.bottom - a.top);
    }
    ctx.restore();
  }
};

// boxed axes with inward tick marks on all four sides
const framePlugin = {
  id: 'boxFrame',
  afterDatasetsDraw(chart) {
    const { ctx, chartArea: a, scales: { x, y } } = chart;
    const L = Math.round(a.left) + 0.5, R = Math.round(a.right) - 0.5;
    const T = Math.round(a.top) + 0.5, B = Math.round(a.bottom) - 0.5;
    const len = 5;
    ctx.save();
    ctx.strokeStyle = AXIS_INK;
    ctx.lineWidth = 1.3;
    ctx.strokeRect(L, T, R - L, B - T);
    ctx.beginPath();
    y.ticks.forEach(t => {
      const p = Math.round(y.getPixelForValue(t.value)) + 0.5;
      ctx.moveTo(L, p); ctx.lineTo(L + len, p);
      ctx.moveTo(R, p); ctx.lineTo(R - len, p);
    });
    x.ticks.forEach(t => {
      const p = Math.round(x.getPixelForValue(t.value)) + 0.5;
      ctx.moveTo(p, B); ctx.lineTo(p, B - len);
      ctx.moveTo(p, T); ctx.lineTo(p, T + len);
    });
    ctx.stroke();
    ctx.restore();
  }
};

function drawPanel(id, plotLeft, plotTop, plotBottom, within, world) {
  const cv = document.getElementById(id);
  const h = plotBottom - plotTop;
  cv.width = PLOT_W + PAD_L + PAD_R;
  cv.height = h + PAD_T + PAD_B;
  cv.style.left = (plotLeft - PAD_L) + 'px';
  cv.style.top = (plotTop - PAD_T) + 'px';

  return new Chart(cv, {
    type: 'line',
    data: {
      datasets: [
        { label: 'Within Region', data: within, borderColor: '#000000', borderWidth: 3.8,
          pointRadius: 0, tension: 0, clip: 0, order: 2, borderJoinStyle: 'round' },
        { label: 'With the Rest-of-the-World', data: world, borderColor: '#0000ff', borderWidth: 2,
          borderDash: [2.5, 3], pointRadius: 0, tension: 0, clip: 0, order: 1 }
      ]
    },
    options: {
      responsive: false,
      animation: false,
      devicePixelRatio: 1,
      layout: { padding: { left: 0, top: PAD_T, right: PAD_R, bottom: 0 } },
      plugins: { legend: { display: false }, tooltip: { enabled: false } },
      scales: {
        x: {
          type: 'linear', min: firstObs, max: lastObs,
          afterBuildTicks: s => { s.ticks = tickObs.map(v => ({ value: v })); },
          afterFit: s => { s.height = PAD_B; },
          grid: { display: false, drawTicks: false },
          border: { display: false },
          ticks: {
            autoSkip: false, maxRotation: 0, padding: 15, color: AXIS_INK, font: TICK_FONT,
            callback: v => tickLabels[tickObs.indexOf(v)]
          }
        },
        y: {
          min: 0, max: 1,
          afterFit: s => { s.width = PAD_L; },
          grid: { display: false, drawTicks: false },
          border: { display: false },
          ticks: {
            stepSize: 0.2, padding: 11, color: AXIS_INK, font: TICK_FONT,
            callback: v => String(Math.round(v * 10) / 10)
          }
        }
      }
    },
    plugins: [shadingPlugin, framePlugin]
  });
}

drawPanel('eqNA', 57, 89, 402, equityNA_within, equityNA_world);
drawPanel('bdNA', 577, 89, 402, bondNA_within, bondNA_world);
drawPanel('eqEU', 57, 491, 806, equityEU_within, equityEU_world);
drawPanel('bdEU', 579, 489, 804, bondEU_within, bondEU_world);
drawPanel('eqAU', 57, 894, 1208, equityAU_within, equityAU_world);
drawPanel('bdAU', 582, 894, 1208, bondAU_within, bondAU_world);

// stretch serif captions to their set widths
document.querySelectorAll('.txt[data-w]').forEach(el => {
  const w = el.getBoundingClientRect().width;
  const k = Number(el.dataset.w) / w;
  el.style.transform = 'translateX(-50%) scaleX(' + k.toFixed(3) + ')';
});
</script>
</body>
</html>
